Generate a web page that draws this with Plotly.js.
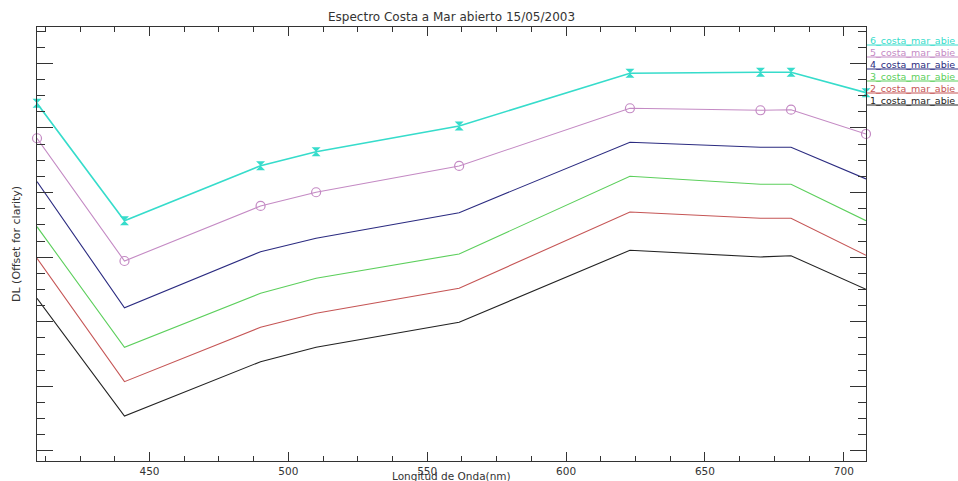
<!DOCTYPE html>
<html>
<head>
<meta charset="utf-8">
<script src="https://cdn.plot.ly/plotly-3.0.1.min.js"></script>
<style>html,body{margin:0;padding:0;background:#fff;overflow:hidden}</style>
</head>
<body>
<div id="chart" style="width:958px;height:481px"></div>
<script>
// Wavelengths (nm)
const wavelengths = [409.5, 441, 490, 510, 561.5, 623, 670, 681, 708];
// DL (offset for clarity), arbitrary units
const serie1 = [2.364, 0.542, 1.382, 1.605, 1.992, 3.107, 3.003, 3.023, 2.503];
const serie2 = [2.983, 1.073, 1.915, 2.132, 2.519, 3.700, 3.602, 3.602, 3.029];
const serie3 = [3.472, 1.605, 2.441, 2.673, 3.050, 4.252, 4.128, 4.128, 3.565];
const serie4 = [4.169, 2.218, 3.085, 3.293, 3.689, 4.779, 4.701, 4.701, 4.211];
const serie5 = [4.841, 2.941, 3.793, 4.005, 4.412, 5.305, 5.274, 5.283, 4.907];
const serie6 = [5.382, 3.565, 4.416, 4.633, 5.031, 5.847, 5.862, 5.862, 5.546];
// legend labels as visible in the picture (truncated at the right edge)
const seriesNames = ["1_costa_mar_abie", "2_costa_mar_abie", "3_costa_mar_abie",
                     "4_costa_mar_abie", "5_costa_mar_abie", "6_costa_mar_abie"];
const xTickVals = [450, 500, 550, 600, 650, 700];
const xTickText = ["450", "500", "550", "600", "650", "700"];

const colors = ["#222222", "#c55555", "#5ccf5c", "#2b2b80", "#c48ac4", "#36dccb"];
const allSeries = [serie1, serie2, serie3, serie4, serie5, serie6];

const traces = allSeries.map((s, i) => {
  const t = {
    x: wavelengths, y: s, type: 'scatter', name: seriesNames[i],
    mode: 'lines', line: {color: colors[i], width: i === 5 ? 1.6 : 1.1},
    showlegend: false, cliponaxis: false
  };
  if (i === 4) {
    t.mode = 'lines+markers';
    t.marker = {symbol: 'circle-open', size: 9, color: colors[i], line: {width: 1.2, color: colors[i]}};
  }
  if (i === 5) {
    t.mode = 'lines+markers';
    t.marker = {symbol: 'hourglass', size: 9, color: colors[i], line: {width: 0}};
  }
  return t;
});

const L = 37, R = 866, T = 27, B = 461;
const px = v => (v - L) / (R - L);
const py = v => (B - v) / (B - T);

const annotations = [
  {text: 'Espectro Costa a Mar abierto 15/05/2003', xref: 'paper', yref: 'paper',
   x: px(451), y: py(17), showarrow: false, xanchor: 'center', yanchor: 'middle',
   font: {family: 'DejaVu Sans', size: 12, color: '#333'}},
  {text: 'Longitud de Onda(nm)', xref: 'paper', yref: 'paper',
   x: px(451.5), y: py(475.5), showarrow: false, xanchor: 'center', yanchor: 'middle',
   font: {family: 'DejaVu Sans', size: 10.5, color: '#333'}},
  {text: 'DL (Offset for clarity)', xref: 'paper', yref: 'paper', textangle: -90,
   x: px(16), y: py(244), showarrow: false, xanchor: 'center', yanchor: 'middle',
   font: {family: 'DejaVu Sans', size: 11, color: '#333'}}
];
const shapes = [];
const legendY = [100, 88, 76, 64, 52, 40];
for (let i = 0; i < 6; i++) {
  annotations.push({text: seriesNames[i], xref: 'paper', yref: 'paper',
    x: px(868), y: py(legendY[i]), showarrow: false, xanchor: 'left', yanchor: 'middle',
    font: {family: 'DejaVu Sans', size: 9.5, color: colors[i]}});
  shapes.push({type: 'line', xref: 'paper', yref: 'paper',
    x0: px(867), x1: px(960), y0: py(legendY[i] + 5), y1: py(legendY[i] + 5),
    line: {color: colors[i], width: 1}});
}

const layout = {
  width: 958, height: 481,
  margin: {l: L, r: 958 - R, t: T, b: 481 - B, pad: 0},
  paper_bgcolor: '#fff', plot_bgcolor: '#fff',
  showlegend: false,
  xaxis: {
    range: [409.5, 708], tickvals: xTickVals, ticktext: xTickText,
    ticks: 'inside', ticklen: 9, tickwidth: 1, tickcolor: '#333',
    showline: true, linecolor: '#333', linewidth: 1, mirror: 'allticks',
    showgrid: false, zeroline: false, automargin: false,
    tickfont: {family: 'DejaVu Sans', size: 10.5, color: '#333'},
    minor: {dtick: 12.5, tick0: 400, ticks: 'inside', ticklen: 5, tickcolor: '#333', showgrid: false}
  },
  yaxis: {
    range: [-0.155, 6.563], tick0: 0, dtick: 1,
    ticks: 'inside', ticklen: 16, tickwidth: 1, tickcolor: '#333',
    showline: true, linecolor: '#333', linewidth: 1, mirror: 'allticks',
    showgrid: false, zeroline: false, showticklabels: false, automargin: false,
    minor: {dtick: 0.25, tick0: 0, ticks: 'inside', ticklen: 8, tickcolor: '#333', showgrid: false}
  },
  annotations: annotations,
  shapes: shapes
};

Plotly.newPlot('chart', traces, layout, {staticPlot: true, displayModeBar: false});
</script>
</body>
</html>
